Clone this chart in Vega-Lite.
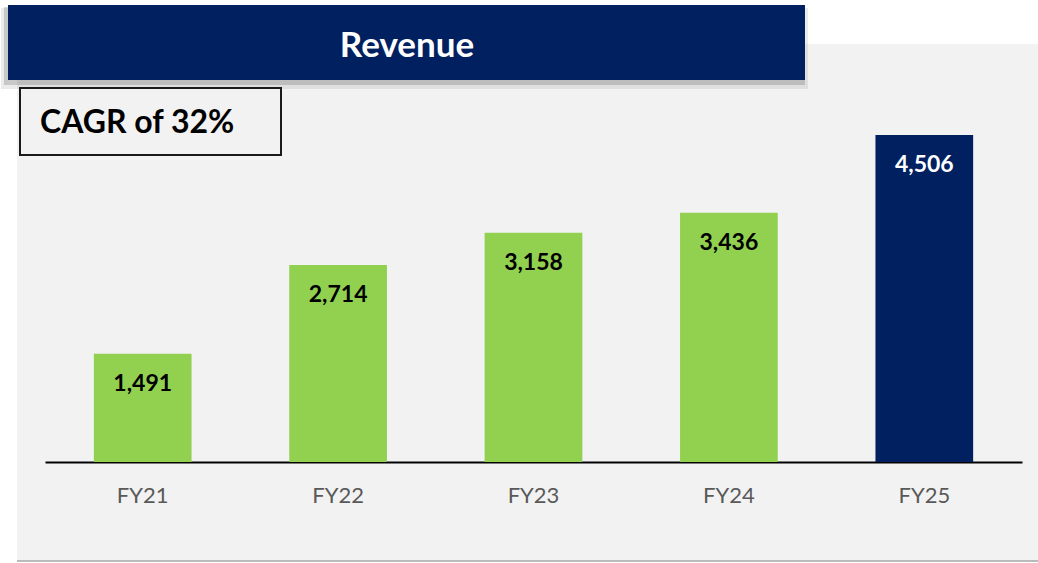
{
  "$schema": "https://vega.github.io/schema/vega-lite/v6.json",
  "autosize": {"type": "none"},
  "width": 1021,
  "height": 517,
  "padding": {"left": 17, "top": 44, "right": 0, "bottom": 2},
  "background": "#ffffff",
  "config": {
    "view": {"fill": "#f2f2f2", "stroke": null},
    "font": "Lato"
  },
  "resolve": {"scale": {"x": "independent", "y": "independent"}},
  "layer": [
    {
      "data": {"values": [{"title": "Revenue", "note": "CAGR of 32%"}]},
      "layer": [
        {
          "mark": {"type": "rect", "color": "#000000", "opacity": 0.08},
          "encoding": {
            "x": {"datum": -16, "type": "quantitative", "scale": {"domain": [0, 1021], "nice": false, "zero": false}, "axis": null},
            "x2": {"datum": 791},
            "y": {"datum": -36, "type": "quantitative", "scale": {"domain": [0, 517], "nice": false, "zero": false, "reverse": true}, "axis": null},
            "y2": {"datum": 45}
          }
        },
        {
          "mark": {"type": "rect", "color": "#000000", "opacity": 0.15},
          "encoding": {
            "x": {"datum": -13, "type": "quantitative"},
            "x2": {"datum": 788},
            "y": {"datum": -37, "type": "quantitative"},
            "y2": {"datum": 41}
          }
        },
        {
          "mark": {"type": "rect", "color": "#002060"},
          "encoding": {
            "x": {"datum": -9, "type": "quantitative"},
            "x2": {"datum": 788},
            "y": {"datum": -39, "type": "quantitative"},
            "y2": {"datum": 36}
          }
        },
        {
          "mark": {"type": "text", "color": "#ffffff", "fontSize": 35, "fontWeight": "bold", "align": "center", "baseline": "middle", "font": "Lato"},
          "encoding": {
            "x": {"datum": 390, "type": "quantitative"},
            "y": {"datum": 2, "type": "quantitative"},
            "text": {"field": "title"}
          }
        },
        {
          "mark": {"type": "rect", "fill": "#f2f2f2", "stroke": "#1a1a1a", "strokeWidth": 2},
          "encoding": {
            "x": {"datum": 3, "type": "quantitative"},
            "x2": {"datum": 264},
            "y": {"datum": 44, "type": "quantitative"},
            "y2": {"datum": 111}
          }
        },
        {
          "mark": {"type": "text", "color": "#000000", "fontSize": 32, "fontWeight": "bold", "align": "left", "baseline": "middle", "font": "Lato"},
          "encoding": {
            "x": {"datum": 23, "type": "quantitative"},
            "y": {"datum": 79, "type": "quantitative"},
            "text": {"field": "note"}
          }
        },
        {
          "mark": {"type": "rule", "color": "#a6a6a6", "strokeWidth": 1.5},
          "encoding": {
            "y": {"datum": 517, "type": "quantitative"}
          }
        }
      ]
    },
    {
      "data": {
        "values": [
          {"year": "FY21", "revenue": 1491},
          {"year": "FY22", "revenue": 2714},
          {"year": "FY23", "revenue": 3158},
          {"year": "FY24", "revenue": 3436},
          {"year": "FY25", "revenue": 4506}
        ]
      },
      "encoding": {
        "x": {
          "field": "year",
          "type": "nominal",
          "sort": null,
          "scale": {"range": [28, 1005], "paddingInner": 0.5, "paddingOuter": 0.25},
          "axis": {
            "orient": "bottom",
            "title": null,
            "offset": -99,
            "ticks": false,
            "domainColor": "#000000",
            "domainWidth": 1.8,
            "labelFont": "Lato",
            "labelFontSize": 22,
            "labelColor": "#595959",
            "labelPadding": 23,
            "labelAngle": 0
          }
        },
        "y": {
          "field": "revenue",
          "type": "quantitative",
          "scale": {"domain": [0, 5760], "range": [418, 0], "nice": false},
          "axis": null
        }
      },
      "layer": [
        {
          "mark": {"type": "bar"},
          "encoding": {
            "color": {
              "condition": {"test": "datum.year === 'FY25'", "value": "#002060"},
              "value": "#92D050"
            }
          }
        },
        {
          "mark": {"type": "text", "dy": 30, "fontSize": 23, "fontWeight": "bold", "font": "Lato", "baseline": "middle", "align": "center"},
          "encoding": {
            "text": {"field": "revenue", "type": "quantitative", "format": ","},
            "color": {
              "condition": {"test": "datum.year === 'FY25'", "value": "#ffffff"},
              "value": "#000000"
            }
          }
        }
      ]
    }
  ]
}
